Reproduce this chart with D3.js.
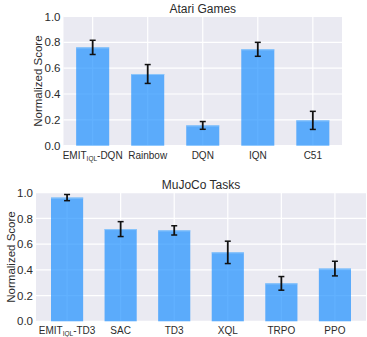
<!DOCTYPE html>
<html>
<head>
<meta charset="utf-8">
<script src="https://cdn.jsdelivr.net/npm/d3@7"></script>
<style>
  body { margin: 0; background: #fff; }
  text { font-family: "Liberation Sans", Arial, sans-serif; fill: #2b2b2b; }
</style>
</head>
<body>
<svg id="chart" width="367" height="337"></svg>
<script>
// Atari panel
const atariNames = ["EMIT|IQL|-DQN", "Rainbow", "DQN", "IQN", "C51"];
const atariScores = [0.761, 0.555, 0.157, 0.746, 0.196];
const atariErr = [0.055, 0.073, 0.030, 0.054, 0.070];

// MuJoCo panel
const mujocoNames = ["EMIT|IQL|-TD3", "SAC", "TD3", "XQL", "TRPO", "PPO"];
const mujocoScores = [0.962, 0.717, 0.707, 0.536, 0.295, 0.410];
const mujocoErr = [0.024, 0.058, 0.036, 0.087, 0.053, 0.057];

const yTicks = [0, 0.2, 0.4, 0.6, 0.8, 1.0];

const svg = d3.select("#chart");

function drawPanel(opt) {
  const n = opt.names.length;
  const x = d3.scaleLinear()
    .domain([-0.3 - 0.05 * (n - 0.4), n - 0.7 + 0.05 * (n - 0.4)])
    .range([opt.left, opt.right]);
  const y = d3.scaleLinear().domain([0, 1]).range([opt.bottom, opt.top]);
  const g = svg.append("g");

  g.append("rect")
    .attr("x", opt.left).attr("y", opt.top)
    .attr("width", opt.right - opt.left).attr("height", opt.bottom - opt.top)
    .attr("fill", "#eaeaf2");

  // grid
  g.selectAll("line.hg").data(yTicks).enter().append("line")
    .attr("x1", opt.left).attr("x2", opt.right)
    .attr("y1", d => y(d)).attr("y2", d => y(d))
    .attr("stroke", "#fff").attr("stroke-width", 1.2);
  g.selectAll("line.vg").data(d3.range(n)).enter().append("line")
    .attr("x1", d => x(d)).attr("x2", d => x(d))
    .attr("y1", opt.top).attr("y2", opt.bottom)
    .attr("stroke", "#fff").attr("stroke-width", 1.2);

  const bw = x(0.6) - x(0);
  g.selectAll("rect.bar").data(opt.scores).enter().append("rect")
    .attr("x", (d, i) => x(i) - bw / 2)
    .attr("y", d => y(d))
    .attr("width", bw)
    .attr("height", d => y(0) - y(d))
    .attr("fill", "#1e90ff").attr("fill-opacity", 0.7);
  g.selectAll("line.barTop").data(opt.scores).enter().append("line")
    .attr("x1", (d, i) => x(i) - bw / 2).attr("x2", (d, i) => x(i) + bw / 2)
    .attr("y1", d => y(d) + 0.5).attr("y2", d => y(d) + 0.5)
    .attr("stroke", "#8cc6fb").attr("stroke-width", 1);

  // error bars
  const eb = g.selectAll("g.err").data(opt.scores).enter().append("g");
  eb.append("line")
    .attr("x1", (d, i) => x(i)).attr("x2", (d, i) => x(i))
    .attr("y1", (d, i) => y(d - opt.err[i])).attr("y2", (d, i) => y(d + opt.err[i]))
    .attr("stroke", "#111").attr("stroke-width", 1.8);
  [-1, 1].forEach(s => {
    eb.append("line")
      .attr("x1", (d, i) => x(i) - 3).attr("x2", (d, i) => x(i) + 3)
      .attr("y1", (d, i) => y(d + s * opt.err[i])).attr("y2", (d, i) => y(d + s * opt.err[i]))
      .attr("stroke", "#111").attr("stroke-width", 1.5);
  });

  // y tick labels
  g.selectAll("text.yt").data(yTicks).enter().append("text")
    .attr("x", opt.left - 3).attr("y", d => y(d))
    .attr("dy", "0.36em")
    .attr("text-anchor", "end")
    .style("font-size", "11.5px")
    .text(d => d.toFixed(1));

  // x tick labels with subscript
  const xt = g.selectAll("text.xt").data(opt.names).enter().append("text")
    .attr("x", (d, i) => x(i)).attr("y", opt.bottom + 13)
    .attr("text-anchor", "middle")
    .style("font-size", "10px");
  xt.each(function (d) {
    const parts = d.split("|");
    const t = d3.select(this);
    t.append("tspan").text(parts[0]);
    if (parts.length > 1) {
      t.append("tspan").attr("dy", 2).style("font-size", "6.5px").text(parts[1]);
      t.append("tspan").attr("dy", -2).text(parts[2]);
    }
  });

  g.append("text")
    .attr("x", (opt.left + opt.right) / 2).attr("y", opt.top - 4)
    .attr("text-anchor", "middle")
    .style("font-size", "12px")
    .text(opt.title);

  g.append("text")
    .attr("transform", `translate(${opt.labelX},${(opt.top + opt.bottom) / 2}) rotate(-90)`)
    .attr("text-anchor", "middle")
    .style("font-size", "11.5px")
    .text("Normalized Score");
}

drawPanel({
  names: atariNames, scores: atariScores, err: atariErr,
  left: 63.5, right: 342, top: 16.5, bottom: 145.7,
  title: "Atari Games", labelX: 42
});

drawPanel({
  names: mujocoNames, scores: mujocoScores, err: mujocoErr,
  left: 36, right: 366, top: 192.7, bottom: 321.3,
  title: "MuJoCo Tasks", labelX: 15
});
</script>
</body>
</html>
